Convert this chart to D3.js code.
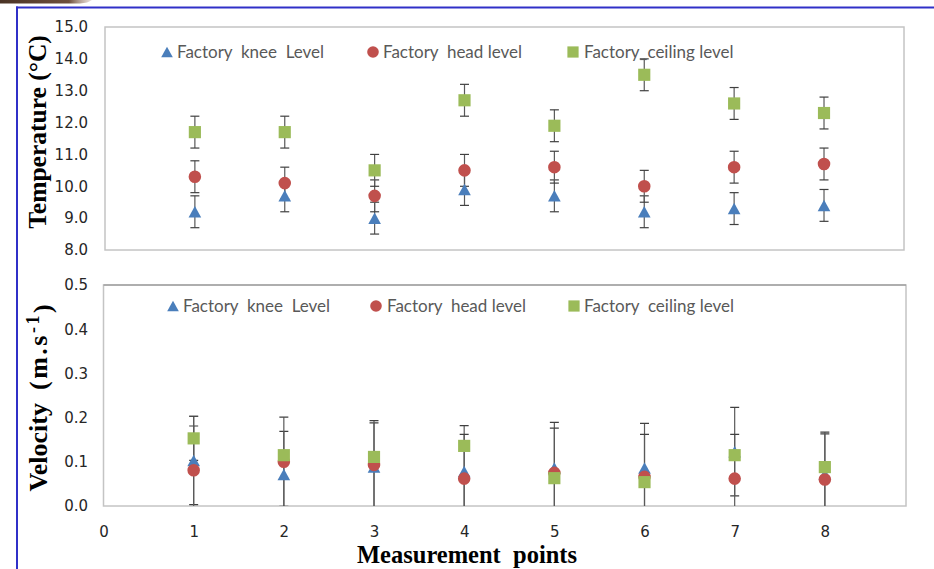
<!DOCTYPE html>
<html>
<head>
<meta charset="utf-8">
<script src="https://cdn.jsdelivr.net/npm/d3@7"></script>
<style>
  html, body { margin: 0; padding: 0; background: #ffffff; }
  svg { display: block; }
  .tick text { font-family: "DejaVu Sans", sans-serif; font-size: 15px; fill: #262626; }
  .legend text { font-family: Lato, "Open Sans", sans-serif; font-size: 17px; fill: #595959; white-space: pre; }
  .axis-title { font-family: "Liberation Serif", "Times New Roman", serif; font-weight: bold; fill: #000; white-space: pre; }
</style>
</head>
<body>
<svg id="chart" width="934" height="569"></svg>
<script>
// Measurement points on the shared x axis
const points = [1, 2, 3, 4, 5, 6, 7, 8];
const xTickValues = [0, 1, 2, 3, 4, 5, 6, 7, 8];

// Temperature (°C) by level, with ± error
const tempKnee    = [9.2, 9.7, 9.0, 9.9, 9.7, 9.2, 9.3, 9.4];
const tempHead    = [10.3, 10.1, 9.7, 10.5, 10.6, 10.0, 10.6, 10.7];
const tempCeiling = [11.7, 11.7, 10.5, 12.7, 11.9, 13.5, 12.6, 12.3];
const tempKneeErr    = [0.5, 0.5, 0.5, 0.5, 0.5, 0.5, 0.5, 0.5];
const tempHeadErr    = [0.5, 0.5, 0.5, 0.5, 0.5, 0.5, 0.5, 0.5];
const tempCeilingErr = [0.5, 0.5, 0.5, 0.5, 0.5, 0.5, 0.5, 0.5];
const tempTicks = [8, 9, 10, 11, 12, 13, 14, 15];

// Air velocity (m/s) by level, with ± error
const velKnee    = [0.103, 0.071, 0.088, 0.078, 0.086, 0.086, 0.123, 0.072];
const velHead    = [0.081, 0.100, 0.093, 0.062, 0.075, 0.066, 0.062, 0.060];
const velCeiling = [0.153, 0.115, 0.111, 0.136, 0.063, 0.054, 0.115, 0.088];
const velKneeErr    = [0.100, 0.098, 0.100, 0.104, 0.103, 0.101, 0.100, 0.091];
const velHeadErr    = [0.100, 0.101, 0.100, 0.100, 0.101, 0.096, 0.100, 0.107];
const velCeilingErr = [0.050, 0.010, 0.010, 0.010, 0.010, 0.010, 0.010, 0.010];
const velTicks = [0.0, 0.1, 0.2, 0.3, 0.4, 0.5];

const svg = d3.select("#chart");

// Page frame: brown strip at the corner and blue rules
const defs = svg.append("defs");
const grad = defs.append("linearGradient").attr("id", "brownFade")
  .attr("x1", "0").attr("x2", "1").attr("y1", "0").attr("y2", "0");
grad.append("stop").attr("offset", "0").attr("stop-color", "#4a3325");
grad.append("stop").attr("offset", "0.75").attr("stop-color", "#6e4f3c");
grad.append("stop").attr("offset", "1").attr("stop-color", "#b89a86").attr("stop-opacity", 0.3);
svg.append("path")
  .attr("d", "M0,0 L92,0 Q88,3 80,3.5 L0,3.5 Z")
  .attr("fill", "url(#brownFade)");
svg.append("line").attr("x1", 16).attr("x2", 934).attr("y1", 7.5).attr("y2", 7.5)
  .attr("stroke", "#3030c8").attr("stroke-width", 2);
svg.append("line").attr("x1", 17).attr("x2", 17).attr("y1", 6.5).attr("y2", 569)
  .attr("stroke", "#3030c8").attr("stroke-width", 2);

// Marker shapes
const triangle = {
  draw(ctx, size) {
    const w = Math.sqrt(size) * 0.55, h = Math.sqrt(size) * 0.5;
    ctx.moveTo(0, -h); ctx.lineTo(w, h); ctx.lineTo(-w, h); ctx.closePath();
  }
};
const seriesStyle = [
  { name: "knee",    color: "#4a7ebb", type: triangle,          size: 132 },
  { name: "head",    color: "#c0504d", type: d3.symbolCircle,   size: 124 },
  { name: "ceiling", color: "#9bbb59", type: d3.symbolSquare,   size: 148 }
];

function drawPanel(cfg) {
  const { id, x, y, series, ticks, fmt, tickPad, legendItems, legendY } = cfg;
  const [x0, x1] = x.range();
  const [y1, y0] = y.range();
  const g = svg.append("g");

  defs.append("clipPath").attr("id", "clip-" + id)
    .append("rect").attr("x", x0).attr("y", y0).attr("width", x1 - x0).attr("height", y1 - y0);

  // Plot area border
  g.append("rect").attr("x", x0).attr("y", y0).attr("width", x1 - x0).attr("height", y1 - y0)
    .attr("fill", "none").attr("stroke", "#c4c4c4").attr("stroke-width", 1.5);
  if (cfg.darkTop) {
    g.append("line").attr("x1", x0).attr("x2", x1).attr("y1", y0).attr("y2", y0)
      .attr("stroke", "#8a8a8a").attr("stroke-width", 1);
  }

  // Y axis labels
  const yAxis = d3.axisLeft(y).tickValues(ticks).tickFormat(d3.format(fmt))
    .tickSize(0).tickPadding(tickPad);
  const ya = g.append("g").attr("transform", `translate(${x0},0)`).call(yAxis);
  ya.select(".domain").remove();

  // Error bars (behind markers)
  const eb = g.append("g").attr("clip-path", `url(#clip-${id})`);
  series.forEach((s) => {
    points.forEach((p, i) => {
      const cx = x(p), hi = y(s.values[i] + s.err[i]), lo = y(s.values[i] - s.err[i]);
      eb.append("line").attr("x1", cx).attr("x2", cx).attr("y1", hi).attr("y2", lo)
        .attr("stroke", "#595959").attr("stroke-width", 1.2);
      [hi, lo].forEach(yy => {
        eb.append("line").attr("x1", cx - 4.5).attr("x2", cx + 4.5).attr("y1", yy).attr("y2", yy)
          .attr("stroke", "#404040").attr("stroke-width", 1.2);
      });
    });
  });

  // Markers
  series.forEach((s, k) => {
    const st = seriesStyle[k];
    g.append("g").selectAll("path").data(points).join("path")
      .attr("transform", (p, i) => `translate(${x(p)},${y(s.values[i])})`)
      .attr("d", d3.symbol().type(st.type).size(st.size))
      .attr("fill", st.color);
  });

  // Legend
  const lg = g.append("g").attr("class", "legend");
  legendItems.forEach((item, k) => {
    const st = seriesStyle[k];
    lg.append("path")
      .attr("transform", `translate(${item.mx},${legendY})`)
      .attr("d", d3.symbol().type(st.type).size(st.size * 0.85))
      .attr("fill", st.color);
    lg.append("text").attr("x", item.tx).attr("y", legendY).attr("dy", "0.36em")
      .text(item.label);
  });
}

// Temperature panel
const xTop = d3.scaleLinear().domain([0, 8.89]).range([105, 904]);
const yTop = d3.scaleLinear().domain([8, 15]).range([250, 27]);
drawPanel({
  id: "temp", x: xTop, y: yTop, ticks: tempTicks, fmt: ".1f", tickPad: 17,
  series: [
    { values: tempKnee, err: tempKneeErr },
    { values: tempHead, err: tempHeadErr },
    { values: tempCeiling, err: tempCeilingErr }
  ],
  legendY: 52,
  legendItems: [
    { mx: 167, tx: 177, label: "Factory  knee  Level" },
    { mx: 373, tx: 383, label: "Factory  head level" },
    { mx: 573, tx: 584, label: "Factory_ceiling level" }
  ]
});

// Velocity panel
const xBot = d3.scaleLinear().domain([0, 8.9]).range([103.5, 906]);
const yBot = d3.scaleLinear().domain([0, 0.5]).range([506, 285]);
drawPanel({
  id: "vel", x: xBot, y: yBot, ticks: velTicks, fmt: ".1f", tickPad: 15.5, darkTop: true,
  series: [
    { values: velKnee, err: velKneeErr },
    { values: velHead, err: velHeadErr },
    { values: velCeiling, err: velCeilingErr }
  ],
  legendY: 306,
  legendItems: [
    { mx: 173, tx: 183, label: "Factory  knee  Level" },
    { mx: 376, tx: 387, label: "Factory  head level" },
    { mx: 574, tx: 584, label: "Factory  ceiling level" }
  ]
});

// Shared x axis labels under the velocity panel
const xAxis = d3.axisBottom(xBot).tickValues(xTickValues).tickFormat(d3.format("d"))
  .tickSize(0).tickPadding(20);
const xa = svg.append("g").attr("transform", "translate(0,506)").call(xAxis);
xa.select(".domain").remove();

// Axis titles
svg.append("text").attr("class", "axis-title")
  .attr("transform", "translate(46,132) rotate(-90)")
  .attr("text-anchor", "middle").attr("font-size", 25.5)
  .text("Temperature (°C)");

const vt = svg.append("text").attr("class", "axis-title")
  .attr("transform", "translate(47,398) rotate(-90)")
  .attr("text-anchor", "middle").attr("font-size", 26);
vt.append("tspan").text("Velocity  ");
vt.append("tspan").attr("letter-spacing", 2.5).text("(m.s");
vt.append("tspan").attr("dy", "-0.45em").attr("font-size", 18).attr("letter-spacing", 2.5).text("-1");
vt.append("tspan").attr("dy", "0.45em").text(")");

svg.append("text").attr("class", "axis-title")
  .attr("x", 467).attr("y", 563)
  .attr("text-anchor", "middle").attr("font-size", 24.5)
  .text("Measurement  points");
</script>
</body>
</html>
